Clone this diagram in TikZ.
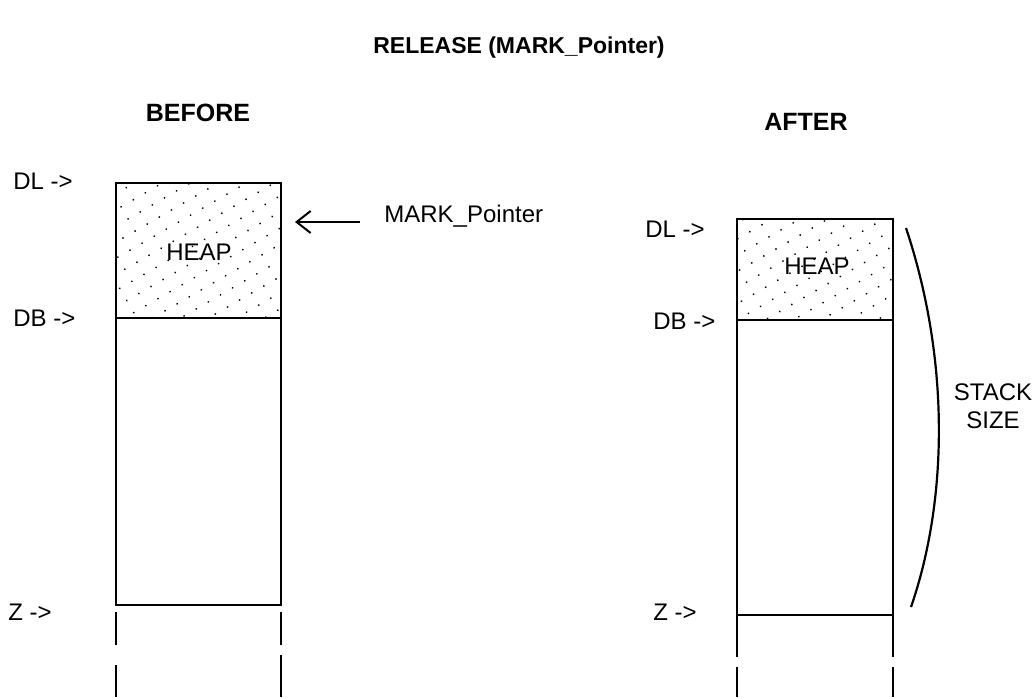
\documentclass[tikz,border=0pt]{standalone}
\usepackage{fontspec}
\setmainfont{Liberation Sans}
\usetikzlibrary{arrows.meta,patterns.meta,positioning}

\begin{document}
\begin{tikzpicture}[x=0.5pt, y=-0.5pt, >=Straight Barb,
    font=\fontsize{12}{14}\selectfont,
    heap/.style={draw, line width=1.3pt,
                 pattern={Dots[distance=7pt, radius=0.5pt, angle=30]}},
    wall/.style={draw, line width=1.3pt},
    gone/.style={draw, line width=0.9pt},
    lbl/.style={anchor=west, inner sep=0pt},
    hdr/.style={font=\fontsize{11.5}{13}\selectfont\bfseries},
    arr/.style={-{Straight Barb[length=7pt, width=11pt, line width=1pt]},
                line width=1pt, shorten >=1pt}]

  \useasboundingbox (0,0) rectangle (1034,697);

  %% Title and headings
  \node[hdr] (title)  at (519,48)  {RELEASE (MARK\_Pointer)};
  \node[hdr, font=\fontsize{12.5}{14}\selectfont\bfseries]
             (before) at (198,113) {BEFORE};
  \node[hdr, font=\fontsize{12.5}{14}\selectfont\bfseries]
             (after)  at (806,122) {AFTER};

  %% Before: heap over stack
  \draw[heap] (116,183) rectangle (281,318);
  \node (heapA) at (199,252) {HEAP};
  \draw[wall] (116,318) -- (116,605) -- (281,605) -- (281,318);
  \draw[gone] (116,612) -- (116,645) (116,665) -- (116,697);
  \draw[gone] (281,612) -- (281,645) (281,655) -- (281,697);

  \node[lbl] (dlA) at (13,181) {DL ->};
  \node[lbl] (dbA) at (13,318) {DB ->};
  \node[lbl] (zA)  at (8,612)  {Z ->};

  %% Mark pointer
  \node[lbl] (mark) at (384,216) {MARK\_Pointer};
  \coordinate (markTip) at (293,222);
  \draw[arr] ([xshift=-12pt,yshift=-3pt]mark.west) -- (markTip);

  %% After: heap released
  \draw[heap] (737,219) rectangle (893,320);
  \node (heapB) at (817,266) {HEAP};
  \draw[wall] (737,320) -- (737,615) -- (893,615) -- (893,320);
  \draw[gone] (737,615) -- (737,657) (737,667) -- (737,697);
  \draw[gone] (893,615) -- (893,657) (893,667) -- (893,697);

  \node[lbl] (dlB) at (645,229) {DL ->};
  \node[lbl] (dbB) at (653,321) {DB ->};
  \node[lbl] (zB)  at (653,612) {Z ->};

  %% Stack size brace
  \coordinate (braceTop) at (906,228);
  \coordinate (braceBot) at (911,607);
  \draw[line width=1.1pt] (braceTop) .. controls (950,360) and (948,500) .. (braceBot);
  \node[align=center, inner sep=0pt] (stack) at (993,406) {STACK\\SIZE};
\end{tikzpicture}
\end{document}
